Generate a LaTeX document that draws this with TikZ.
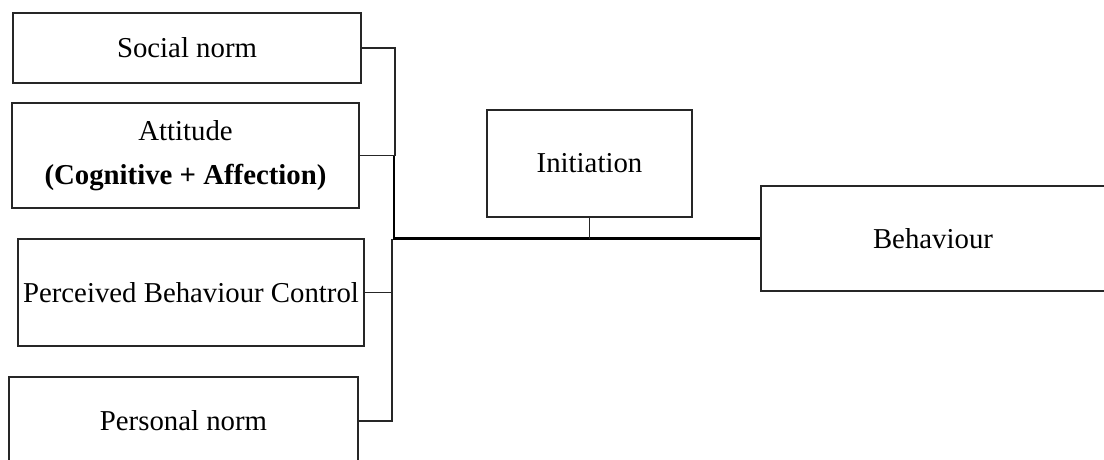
\documentclass[tikz,border=0pt]{standalone}
\usepackage{fontspec}
\setmainfont{Liberation Serif}
\begin{document}
\begin{tikzpicture}[x=1pt,y=-1pt,
  box/.style={draw=black!85, line width=1.3pt, inner sep=0pt, align=center,
    font=\fontsize{28.8}{44}\selectfont},
  conn/.style={draw=black!85, line width=1.2pt},
  trunk/.style={draw=black, line width=2.6pt}]
\clip (0,0) rectangle (1104,459);
\fill[white] (0,0) rectangle (1104,459);
\node[box, minimum width=348pt, minimum height=70pt] (social) at (187,48) {Social norm};
\node[box, minimum width=347pt, minimum height=105pt] (att) at (185.5,155.5) {Attitude\\\textbf{(Cognitive + Affection)}};
\node[box, minimum width=346pt, minimum height=107pt] (pbc) at (191,292.5) {Perceived Behaviour Control};
\node[box, minimum width=349pt, minimum height=88pt] (pers) at (183.5,421) {Personal norm};
\node[box, minimum width=205pt, minimum height=107pt] (init) at (589.5,163.5) {Initiation};
\node[box, minimum width=344pt, minimum height=105pt] (beh) at (933,238.5) {Behaviour};
\coordinate (ja) at (395,155.5);
\coordinate (j) at (394,238.5);
\coordinate (jb) at (392,238.5);
\draw[conn] (social.east) -| (ja);
\draw[conn] (att.east) -- (ja);
\draw[trunk] (394,155.5) -- (j) -- (beh.west);
\draw[conn] (pbc.east) -- (pbc.east -| jb);
\draw[conn] (pers.east) -| (jb);
\draw[conn] (init.south) -- (init.south |- j);
\end{tikzpicture}
\end{document}
